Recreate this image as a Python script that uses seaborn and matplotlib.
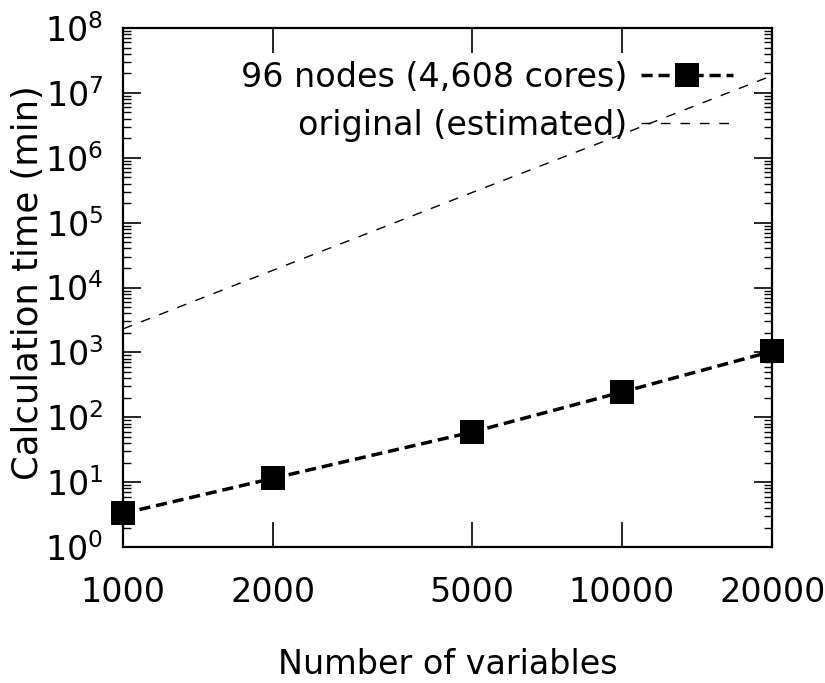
import matplotlib
matplotlib.use("Agg")
import matplotlib.pyplot as plt
import matplotlib.ticker as mticker
import seaborn as sns
import numpy as np
import pandas as pd

# ---- data ----
variables = [1000, 2000, 5000, 10000, 20000]
time_96_nodes = [3.3, 11.5, 59, 245, 1040]
time_original = [2.3e3, 1.85e4, 2.9e5, 2.3e6, 1.85e7]
x_tick_labels = ["1000", "2000", "5000", "10000", "20000"]
y_tick_values = [1e0, 1e1, 1e2, 1e3, 1e4, 1e5, 1e6, 1e7, 1e8]
label_96 = "96 nodes (4,608 cores)"
label_orig = "original (estimated)"

sns.set_style("ticks")
plt.rcParams["font.family"] = ["DejaVu Sans"]
plt.rcParams["mathtext.fontset"] = "dejavusans"
for k in ["text.color", "axes.labelcolor", "xtick.color", "ytick.color",
          "axes.edgecolor"]:
    plt.rcParams[k] = "black"

FS = 24

fig = plt.figure(figsize=(8.25, 6.83), dpi=100)
ax = fig.add_axes([0.149, 0.199, 0.787, 0.760])

df96 = pd.DataFrame({"x": variables, "y": time_96_nodes})
dfo = pd.DataFrame({"x": variables, "y": time_original})

sns.lineplot(data=df96, x="x", y="y", ax=ax, color="black", marker="s",
             markersize=17, markeredgewidth=0, linewidth=2.5, label=label_96,
             clip_on=False, zorder=5)
sns.lineplot(data=dfo, x="x", y="y", ax=ax, color="black", linewidth=1.0,
             label=label_orig)
ax.lines[0].set_dashes([3.2, 1.7])
ax.lines[1].set_dashes([7, 7])

ax.set_xscale("log")
ax.set_yscale("log")
ax.set_xlim(1000, 20000)
ax.set_ylim(1e0, 1e8)

ax.xaxis.set_major_locator(mticker.FixedLocator(variables))
ax.xaxis.set_major_formatter(mticker.FixedFormatter(x_tick_labels))
ax.xaxis.set_minor_locator(mticker.NullLocator())
ax.yaxis.set_major_locator(mticker.FixedLocator(y_tick_values))
ax.yaxis.set_major_formatter(mticker.FuncFormatter(
    lambda v, p: r"$10^{%d}$" % int(round(np.log10(v)))))
ax.yaxis.set_minor_locator(mticker.LogLocator(base=10, subs=np.arange(2, 10), numticks=20))
ax.yaxis.set_minor_formatter(mticker.NullFormatter())

ax.tick_params(axis="x", which="major", direction="in", length=18, width=1.2,
               top=True, bottom=True, labelsize=FS, pad=21)
ax.tick_params(axis="y", which="major", direction="in", length=13, width=1.2,
               left=True, right=True, labelsize=FS, pad=14)
ax.tick_params(axis="y", which="minor", direction="in", length=6, width=1.0,
               left=True, right=True)

for s in ax.spines.values():
    s.set_linewidth(1.6)
    s.set_visible(True)

ax.set_xlabel("Number of variables", fontsize=FS, labelpad=28)
ax.set_ylabel("Calculation time (min)", fontsize=25.5)
ax.yaxis.set_label_coords(-0.120, 0.51)

leg = ax.legend(loc="upper right", frameon=False, fontsize=FS, markerfirst=False,
                handlelength=2.75, handletextpad=0.4, labelspacing=0.45,
                borderaxespad=0.3, bbox_to_anchor=(0.975, 0.982))

fig.savefig("out.png", dpi=100)
